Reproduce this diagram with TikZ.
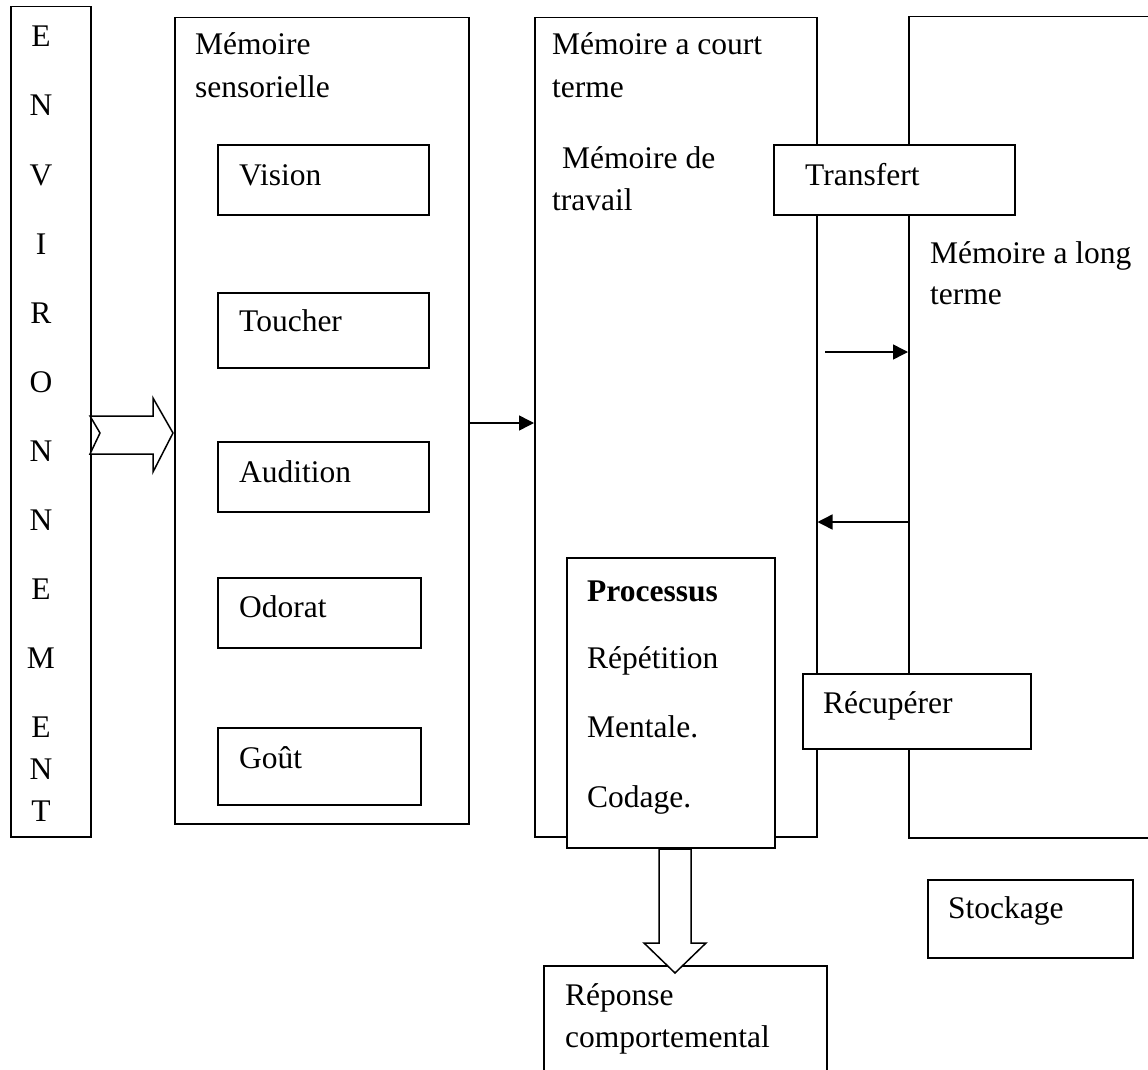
\documentclass[tikz,border=0pt]{standalone}
\usepackage{fontspec}
\setmainfont{Liberation Serif}
\usetikzlibrary{arrows.meta}
\begin{document}
\begin{tikzpicture}[x=1pt,y=-1pt,
  box/.style={draw, line width=1.5pt, fill=white, inner sep=0pt, anchor=north west},
  txt/.style={anchor=base west, inner sep=0pt, font=\fontsize{31.5}{41}\selectfont},
  letter/.style={anchor=base, inner sep=0pt, font=\fontsize{31.5}{41}\selectfont},
  arr/.style={line width=1.5pt, -{Triangle[length=15pt,width=15pt]}},
  hollow/.style={draw, line width=1.5pt, fill=white, line join=miter}]
\useasboundingbox (0,0) rectangle (1148,1070);

% main columns
\node[box, minimum width=80pt,  minimum height=830pt] (env)   at (10,6)   {};
\node[box, minimum width=294pt, minimum height=806pt] (sens)  at (174,17) {};
\node[box, minimum width=282pt, minimum height=819pt] (court) at (534,17) {};
\node[box, minimum width=262pt, minimum height=821pt] (long)  at (908,16) {};

% environment letters
\foreach \l/\y [count=\i] in {E/47,N/116,V/185,I/254,R/323,O/392,N/461,N/530,E/599,M/668,E/737,N/779,T/821}
  \node[letter] (env\i) at (41,\y) {\l};

% sensory memory
\node[txt] (senst1) at (195,55) {Mémoire};
\node[txt] (senst2) at (195,98) {sensorielle};
\node[box, minimum width=211pt, minimum height=70pt] (vision)   at (217,144) {};
\node[box, minimum width=211pt, minimum height=75pt] (toucher)  at (217,292) {};
\node[box, minimum width=211pt, minimum height=70pt] (audition) at (217,441) {};
\node[box, minimum width=203pt, minimum height=70pt] (odorat)   at (217,577) {};
\node[box, minimum width=203pt, minimum height=77pt] (gout)     at (217,727) {};
\node[txt] at (239,185) {Vision};
\node[txt] at (239,331) {Toucher};
\node[txt] at (239,482) {Audition};
\node[txt] at (239,617) {Odorat};
\node[txt] at (239,768) {Goût};

% short-term memory
\node[txt] (courtt1) at (552,55)  {Mémoire a court};
\node[txt] (courtt2) at (552,98)  {terme};
\node[txt] (travt1)  at (562,168) {Mémoire de};
\node[txt] (travt2)  at (552,210) {travail};

% long-term memory
\node[txt] (longt1) at (930,263) {Mémoire a long};
\node[txt] (longt2) at (930,304) {terme};

% overlapping boxes
\node[box, minimum width=241pt, minimum height=70pt]  (transfert) at (773,144) {};
\node[txt] at (805,185) {Transfert};
\node[box, minimum width=228pt, minimum height=75pt]  (recup) at (802,673) {};
\node[txt] at (823,713) {Récupérer};
\node[box, minimum width=208pt, minimum height=290pt] (proc) at (566,557) {};
\node[txt] at (587,601) {\bfseries Processus};
\node[txt] at (587,668) {Répétition};
\node[txt] at (587,737) {Mentale.};
\node[txt] at (587,807) {Codage.};
\node[box, minimum width=205pt, minimum height=78pt]  (stock) at (927,879) {};
\node[txt] at (948,918) {Stockage};
\node[box, minimum width=283pt, minimum height=130pt] (rep) at (543,965) {};
\node[txt] at (565,1005) {Réponse};
\node[txt] at (565,1047) {comportemental};

% connectors
\coordinate (ymid) at (0,423);
\draw[arr] (sens.east |- ymid) -- (court.west |- ymid);
\coordinate (tstart) at (825,352);
\draw[arr] (tstart) -- (long.west |- tstart);
\coordinate (ret) at (0,522);
\draw[arr] (long.west |- ret) -- (court.east |- ret);

% hollow arrow from the environment
\draw[hollow] (90,416) -- (153,416) -- (153,398) -- (173,433) -- (153,472)
  -- (153,454) -- (90,454) -- (100,433) -- cycle;
% hollow arrow towards the response
\draw[hollow] (659,849) -- (691,849) -- (691,943) -- (706,943) -- (675,973)
  -- (644,943) -- (659,943) -- cycle;
\end{tikzpicture}
\end{document}
